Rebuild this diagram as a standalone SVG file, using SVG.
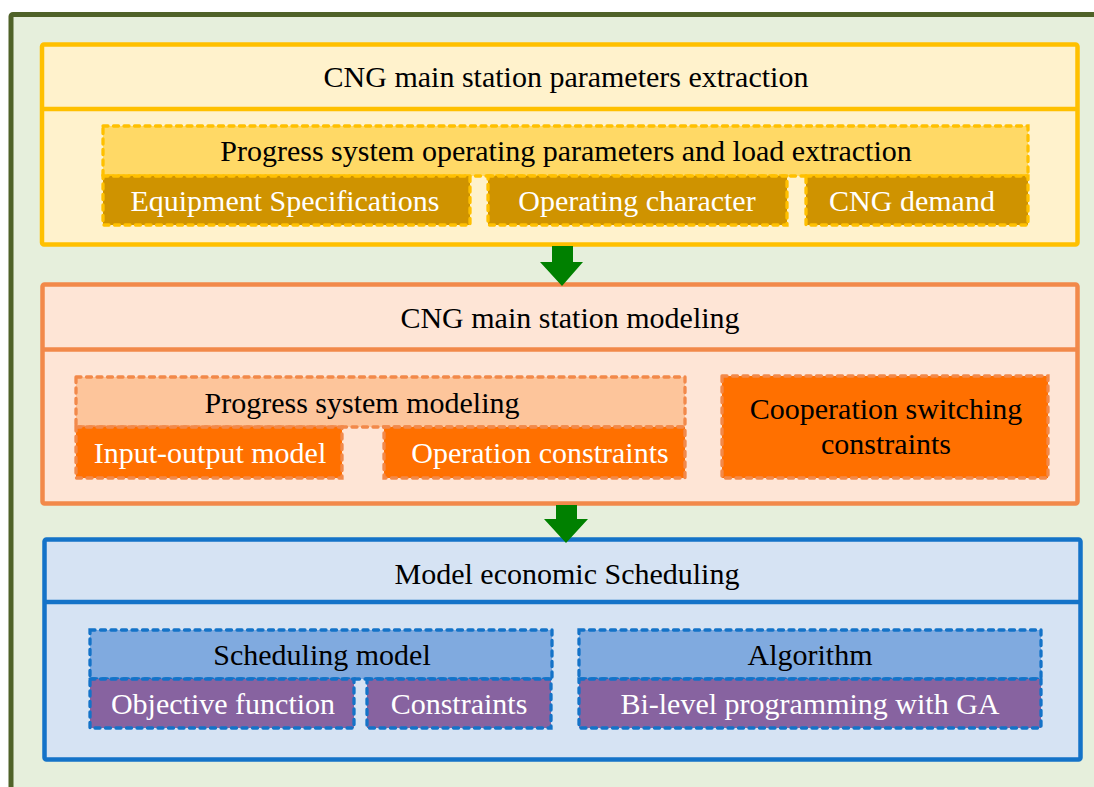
<svg xmlns="http://www.w3.org/2000/svg" width="1094" height="787" viewBox="0 0 1094 787">
<style>
text{font-family:"Liberation Serif","Times New Roman",serif;font-size:30px;text-anchor:middle}
.dk{fill:#000}
.wt{fill:#fff}
.main{stroke-width:4.5;stroke-linejoin:round}
.dash{stroke-width:3.3;stroke-dasharray:5 5.5;stroke-linecap:round}
.y .main{fill:#fff2cc;stroke:#ffc000}
.y .dash{stroke:#ffc000}
.o .main{fill:#fee5d6;stroke:#f2894a}
.o .dash{stroke:#f2894a}
.b .main{fill:#d6e3f3;stroke:#1473c8}
.b .dash{stroke:#1473c8}
</style>
<rect x="0" y="0" width="1094" height="787" fill="#ffffff"/>
<rect id="frame" x="11" y="14.5" width="1100" height="800" fill="#e6efdc" stroke="#4f6228" stroke-width="5" rx="2"/>

<g id="stage1" class="y">
  <rect class="main" x="42" y="44.5" width="1035.5" height="200" rx="2"/>
  <line x1="42" y1="109" x2="1077.5" y2="109" stroke="#ffc000" stroke-width="4.5"/>
  <text class="dk" x="566" y="87">CNG main station parameters extraction</text>
  <g id="s1-progress">
    <rect class="dash" x="103" y="126" width="925" height="50" fill="#ffd966"/>
    <text class="dk" x="566" y="161">Progress system operating parameters and load extraction</text>
  </g>
  <g id="s1-equip">
    <rect class="dash" x="103" y="176" width="367" height="49" fill="#cf9300"/>
    <text class="wt" x="285" y="211">Equipment Specifications</text>
  </g>
  <g id="s1-oper">
    <rect class="dash" x="488" y="176" width="299" height="49" fill="#cf9300"/>
    <text class="wt" x="637" y="211">Operating character</text>
  </g>
  <g id="s1-demand">
    <rect class="dash" x="806" y="176" width="222" height="49" fill="#cf9300"/>
    <text class="wt" x="912" y="211">CNG demand</text>
  </g>
</g>

<g id="stage2" class="o">
  <rect class="main" x="42.5" y="284.5" width="1035" height="219" rx="2"/>
  <line x1="42.5" y1="349.5" x2="1077.5" y2="349.5" stroke="#f2894a" stroke-width="4.5"/>
  <text class="dk" x="570" y="328">CNG main station modeling</text>
  <g id="s2-progress">
    <rect class="dash" x="76" y="377" width="609" height="50" fill="#fdc59b"/>
    <text class="dk" x="362" y="413">Progress system modeling</text>
  </g>
  <g id="s2-io">
    <rect class="dash" x="76" y="427" width="266" height="51" fill="#ff7000"/>
    <text class="wt" x="210" y="463">Input-output model</text>
  </g>
  <g id="s2-opc">
    <rect class="dash" x="384" y="427" width="301" height="51" fill="#ff7000"/>
    <text class="wt" x="540" y="463">Operation constraints</text>
  </g>
  <g id="s2-coop">
    <rect class="dash" x="722" y="376" width="326" height="102" fill="#ff7000"/>
    <text class="dk" x="886" y="419">Cooperation switching</text>
    <text class="dk" x="886" y="454">constraints</text>
  </g>
</g>

<g id="stage3" class="b">
  <rect class="main" x="44.5" y="539.5" width="1036" height="220" rx="2"/>
  <line x1="44.5" y1="602" x2="1080.5" y2="602" stroke="#1473c8" stroke-width="4.5"/>
  <text class="dk" x="567" y="584">Model economic Scheduling</text>
  <g id="s3-sched">
    <rect class="dash" x="90" y="630" width="462" height="49" fill="#80aadf"/>
    <text class="dk" x="322" y="665">Scheduling model</text>
  </g>
  <g id="s3-obj">
    <rect class="dash" x="90" y="679" width="264" height="49" fill="#8763a0"/>
    <text class="wt" x="223" y="714">Objective function</text>
  </g>
  <g id="s3-cons">
    <rect class="dash" x="367" y="679" width="184" height="49" fill="#8763a0"/>
    <text class="wt" x="459" y="714">Constraints</text>
  </g>
  <g id="s3-alg">
    <rect class="dash" x="579" y="630" width="462" height="49" fill="#80aadf"/>
    <text class="dk" x="810" y="665">Algorithm</text>
  </g>
  <g id="s3-bilevel">
    <rect class="dash" x="579" y="679" width="462" height="49" fill="#8763a0"/>
    <text class="wt" x="810" y="714">Bi-level programming with GA</text>
  </g>
</g>

<g id="connectors" fill="#008000">
  <polygon points="552,246 573,246 573,262 583,262 562,286 540,262 552,262"/>
  <polygon points="556,505 577,505 577,519 588,519 566,543 544,519 556,519"/>
</g>
</svg>
